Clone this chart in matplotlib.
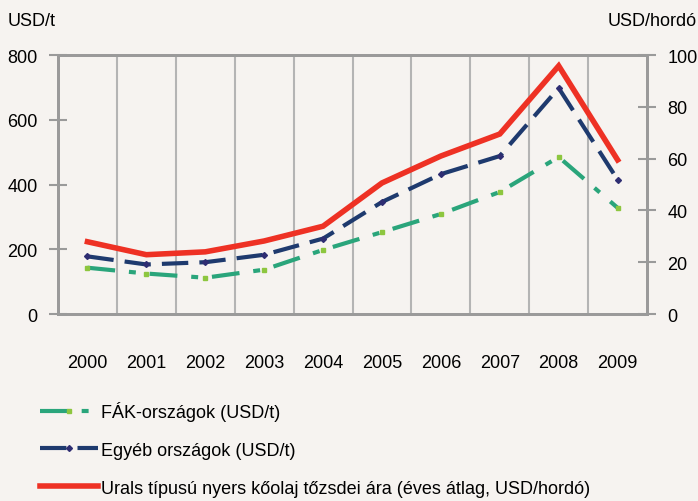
import matplotlib
matplotlib.use("Agg")
import matplotlib.pyplot as plt
from matplotlib.lines import Line2D

plt.rcParams['font.family'] = ['Liberation Sans Narrow', 'Liberation Sans', 'DejaVu Sans']
plt.rcParams['lines.scale_dashes'] = False

evek = ["2000", "2001", "2002", "2003", "2004", "2005", "2006", "2007", "2008", "2009"]

# USD/t (bal tengely)
fak = [143, 125, 112, 137, 198, 253, 309, 377, 485, 328]
egyeb = [178, 153, 160, 183, 233, 346, 432, 488, 698, 415]
# USD/hordó (jobb tengely)
urals = [27.9, 22.9, 24.0, 28.2, 33.9, 50.6, 61.0, 69.5, 95.8, 59.5]

bg = "#f6f3f0"
racs = "#b4b4b4"
tengely = "#9a9a9a"

piros = "#ee3124"
sotetkek = "#1e3a6e"
zold = "#2aa57b"

fig = plt.figure(figsize=(6.98, 5.02), dpi=100, facecolor=bg)
ax = fig.add_axes([0.0831, 0.3725, 0.8439, 0.5159])
ax.set_facecolor(bg)
ax2 = ax.twinx()

x = list(range(len(evek)))

ax.plot(x, fak, color=zold, lw=3, dashes=(20, 10, 5, 10),
        marker="s", ms=3, mfc="#8dc63f", mec="#8dc63f", zorder=3)
ax.plot(x, egyeb, color=sotetkek, lw=3, dashes=(19, 8),
        marker="D", ms=3, mfc="#2e2d72", mec="#2e2d72", zorder=4)
ax2.plot(x, urals, color=piros, lw=4, solid_joinstyle="miter", zorder=5)

ax.set_xlim(-0.5, len(evek) - 0.5)
ax.set_ylim(0, 800)
ax2.set_ylim(0, 100)
ax.set_yticks([0, 200, 400, 600, 800])
ax2.set_yticks([0, 20, 40, 60, 80, 100])

# függőleges rácsvonalak a kategóriák határán
for g in [i + 0.5 for i in range(len(evek) - 1)]:
    ax.axvline(g, color=racs, lw=1.5, zorder=1)

ax.set_xticks(x)
ax.set_xticklabels(evek)
ax.tick_params(axis="x", length=0, pad=29, labelsize=13)
ax.tick_params(axis="y", direction="inout", length=13, width=1.5,
               color=tengely, labelsize=13, pad=8)
ax2.tick_params(axis="y", direction="inout", length=13, width=1.5,
                color=tengely, labelsize=13, pad=8)

for a in (ax, ax2):
    for s in a.spines.values():
        s.set_color(tengely)
        s.set_linewidth(2)

fig.text(8 / 698, 1 - 22 / 502, "USD/t", fontsize=13, ha="left", va="center")
fig.text(697 / 698, 1 - 22 / 502, "USD/hordó", fontsize=13, ha="right", va="center")

kezelok = [
    Line2D([], [], color=zold, lw=3, dashes=(20, 10, 5, 10),
           marker="s", ms=3, mfc="#8dc63f", mec="#8dc63f"),
    Line2D([], [], color=sotetkek, lw=3, dashes=(19, 8),
           marker="D", ms=3, mfc="#2e2d72", mec="#2e2d72"),
    Line2D([], [], color=piros, lw=4),
]
cimkek = [
    "FÁK-országok (USD/t)",
    "Egyéb országok (USD/t)",
    "Urals típusú nyers kőolaj tőzsdei ára (éves átlag, USD/hordó)",
]
fig.legend(kezelok, cimkek, loc="upper left", bbox_to_anchor=(40 / 698, 1 - 402 / 502),
           frameon=False, fontsize=13, handlelength=3.2, handletextpad=0.2,
           labelspacing=1.15, borderpad=0, borderaxespad=0)

fig.savefig("out.png", dpi=100, facecolor=bg)
